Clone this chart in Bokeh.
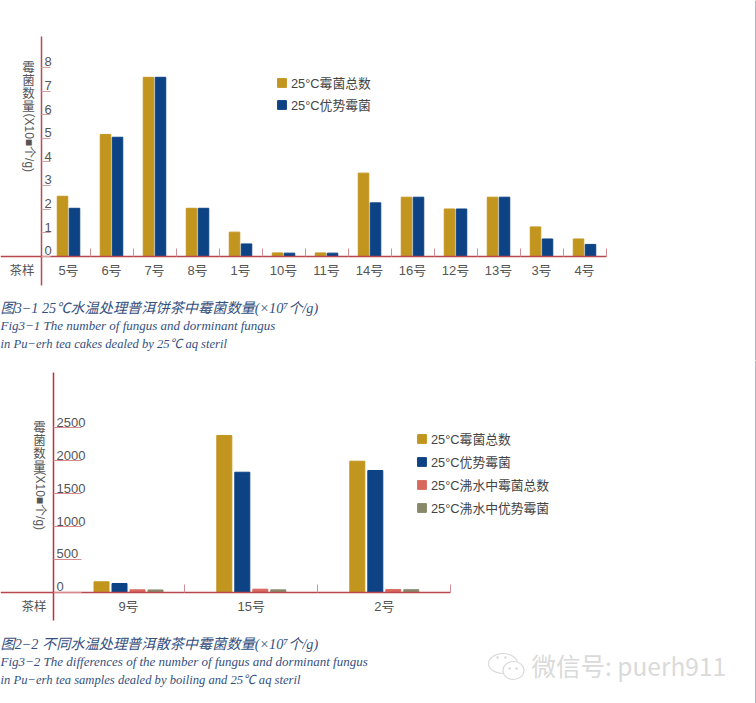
from bokeh.plotting import figure
from bokeh.layouts import column
from bokeh.models import Range1d, LinearAxis, FixedTicker, Label, Span
from bokeh.core.properties import value
from bokeh.embed import file_html
from bokeh.resources import INLINE

# ---- data ----
cats1 = ["5号", "6号", "7号", "8号", "1号", "10号", "11号", "14号", "16号", "12号", "13号", "3号", "4号"]
total1 = [2.54, 5.16, 7.58, 2.03, 1.02, 0.14, 0.14, 3.52, 2.5, 2.0, 2.5, 1.24, 0.73]
dominant1 = [2.03, 5.04, 7.58, 2.03, 0.52, 0.13, 0.13, 2.26, 2.5, 2.0, 2.5, 0.73, 0.5]
ticks1 = [0, 1, 2, 3, 4, 5, 6, 7, 8]

cats2 = ["9号", "15号", "2号"]
total2 = [158, 2385, 1994]
dominant2 = [132, 1826, 1852]
boil_total2 = [36, 46, 40]
boil_dominant2 = [34, 36, 38]
ticks2 = [0, 500, 1000, 1500, 2000, 2500]

names1 = ["25°C霉菌总数", "25°C优势霉菌"]
names2 = ["25°C霉菌总数", "25°C优势霉菌", "25°C沸水中霉菌总数", "25°C沸水中优势霉菌"]
ylabel_cn = "霉菌数量"
ylabel_unit = "(X10■个/g)"
xlabel = "茶样"
caption1 = ["图3−1 25℃水温处理普洱饼茶中霉菌数量(×10⁷个/g)",
            "Fig3−1 The number of fungus and dorminant fungus",
            "in Pu−erh tea cakes dealed by 25℃ aq steril"]
caption2 = ["图2−2 不同水温处理普洱散茶中霉菌数量(×10⁷个/g)",
            "Fig3−2 The differences of the number of fungus and dorminant fungus",
            "in Pu−erh tea samples dealed by boiling and 25℃ aq steril"]
watermark = "微信号: puerh911"

# ---- style ----
GOLD, BLUE, RED, OLIVE = "#c2951f", "#0d4285", "#d8685e", "#87896a"
SANS = "Liberation Sans, Noto Sans CJK SC"
SERIF = "Liberation Serif, Noto Sans CJK SC"
INK = "#555555"
CAP = "#34507f"
MARK = "#dadada"
W = 756


def build(height, base_px, px_per_val, cat_left, cat_w):
    p = figure(width=W, height=height, output_backend="svg", toolbar_location=None,
               x_range=Range1d(-cat_left / cat_w, (W - cat_left) / cat_w),
               y_range=Range1d((base_px - height) / px_per_val, base_px / px_per_val),
               min_border=0, min_border_left=0, min_border_right=0, min_border_top=0, min_border_bottom=0,
               x_axis_type=None, y_axis_type=None, outline_line_color=None)
    p.xgrid.visible = False
    p.ygrid.visible = False
    return p


def add_axes(p, base_px, ppv, cat_left, cat_w, axis_px, top_px, bottom_px, n_ticks, yticks,
             label_pos, cats, tick_in, ycolor, ytick_color):
    seps = list(range(1, n_ticks + 1))
    xa = LinearAxis(fixed_location=0, ticker=FixedTicker(ticks=seps),
                    bounds=(-cat_left / cat_w, n_ticks),
                    axis_line_color="#b8474c", axis_line_width=1.5,
                    major_tick_line_color="#cf8f94", major_tick_in=8, major_tick_out=0,
                    minor_tick_line_color=None, major_label_overrides={s: "" for s in seps})
    p.add_layout(xa, "below")
    xl = LinearAxis(fixed_location=0, ticker=FixedTicker(ticks=label_pos),
                    axis_line_color=None, major_tick_line_color=None, minor_tick_line_color=None,
                    major_tick_out=0, major_tick_in=0,
                    major_label_overrides={k: c for k, c in zip(label_pos, cats)},
                    major_label_text_font=SANS, major_label_text_font_size="13px",
                    major_label_text_color=INK, major_label_standoff=7)
    p.add_layout(xl, "below")
    axis_u = (axis_px - cat_left) / cat_w
    ya = LinearAxis(fixed_location=axis_u, ticker=FixedTicker(ticks=yticks),
                    bounds=((base_px - bottom_px) / ppv, (base_px - top_px) / ppv),
                    axis_line_color=ycolor, axis_line_width=1.5,
                    major_tick_line_color=ytick_color, major_tick_in=tick_in, major_tick_out=0,
                    minor_tick_line_color=None, major_label_overrides={t: "" for t in yticks})
    p.add_layout(ya, "left")
    # value labels sit to the right of the axis line, on top of their tick
    p.text(x=[axis_u] * len(yticks), y=yticks, text=[str(t) for t in yticks], x_offset=3, y_offset=-1,
           text_font=value(SANS), text_font_size="13px", text_color=INK,
           text_align="left", text_baseline="bottom")


def text(p, height, x, y, s, size, color=INK, font=SANS, style="normal", angle=0, align="left",
         baseline="middle"):
    p.add_layout(Label(x=x, y=height - y, x_units="screen", y_units="screen", text=s,
                       text_font=font, text_font_size=size, text_color=color, text_font_style=style,
                       angle=angle, text_align=align, text_baseline=baseline))


def style_legend(p, x, y, spacing):
    lg = p.legend[0]
    lg.location = (x, y)
    lg.background_fill_alpha = 0
    lg.border_line_alpha = 0
    lg.padding = 0
    lg.margin = 0
    lg.glyph_width = 11
    lg.glyph_height = 11
    lg.label_height = 11
    lg.label_standoff = 4
    lg.spacing = spacing
    lg.label_text_font = SANS
    lg.label_text_font_size = "12.8px"
    lg.label_text_color = "#444444"


def ytitle(p, height, x, y0, unit_y):
    for i, ch in enumerate(ylabel_cn):
        text(p, height, x, y0 + i * 13.3, ch, "12.5px", align="center")
    text(p, height, x + 1, unit_y, ylabel_unit, "12px", angle=-1.5708)


def captions(p, height, lines, ys):
    for s, y, size in zip(lines, ys, ("14.2px", "13px", "12.6px")):
        text(p, height, 0, y, s, size, color=CAP, font=SERIF, style="italic")


# ---- chart 1 ----
H1 = 360
base1, ppv1, left1, cw1 = 255.7, 23.6, 46.5, 43.0
p1 = build(H1, base1, ppv1, left1, cw1)
xs1 = [i + 0.5 for i in range(len(cats1))]
p1.vbar(x=[x - 6 / cw1 for x in xs1], top=total1, bottom=0, width=10.5 / cw1, color=GOLD, legend_label=names1[0])
p1.vbar(x=[x + 6 / cw1 for x in xs1], top=dominant1, bottom=0, width=10.5 / cw1, color=BLUE, legend_label=names1[1])
add_axes(p1, base1, ppv1, left1, cw1, 41, 36, 285, len(cats1), ticks1, xs1, cats1, 9, "#bd4a50", "#d9a0a4")
style_legend(p1, 276, H1 - 114, 3)
text(p1, H1, 9, 270, xlabel, "12.5px")
ytitle(p1, H1, 28, 67, 113)
captions(p1, H1, caption1, (307, 325, 343))

# ---- chart 2 ----
H2 = 343
off2 = 360
base2, ppv2, left2, cw2 = 591.7 - off2, 0.0657, 51.3, 133.0
p2 = build(H2, base2, ppv2, left2, cw2)
xs2 = [(128 - left2) / cw2, 1.5, 2.5]
w2, pitch2 = 15 / cw2, 18 / cw2
series2 = [total2, dominant2, boil_total2, boil_dominant2]
for k, (vals, c) in enumerate(zip(series2, (GOLD, BLUE, RED, OLIVE))):
    p2.vbar(x=[x + (k - 1.5) * pitch2 for x in xs2], top=vals, bottom=0, width=w2, color=c, legend_label=names2[k])
add_axes(p2, base2, ppv2, left2, cw2, 53, 372 - off2, 620 - off2, 3, ticks2, xs2, cats2, 28, "#c0303a", "#d98a90")
style_legend(p2, 416, int(H2 - (517 - off2)), 4)
text(p2, H2, 21, 606.5 - off2, xlabel, "12.5px")
ytitle(p2, H2, 39, 427 - off2, 471 - off2)
captions(p2, H2, caption2, (643 - off2, 661 - off2, 679 - off2))

# watermark: icon outline bubbles + text
def mx(px):
    return (px - left2) / cw2


def my(py):
    return (base2 - (py - off2)) / ppv2


p2.ellipse(x=[mx(502.5)], y=[my(663)], width=29 / cw2, height=20 / ppv2,
           fill_color=None, line_color=MARK, line_width=1.2)
p2.ellipse(x=[mx(513)], y=[my(670)], width=21 / cw2, height=18 / ppv2,
           fill_color="white", line_color=MARK, line_width=1.2)
p2.scatter(x=[mx(497), mx(505), mx(509), mx(516)], y=[my(657), my(657), my(668), my(668)], size=2.5,
           fill_color=MARK, line_color=None)
text(p2, H2, 531, 665 - off2, watermark, "24.5px", color=MARK, font="Noto Sans CJK SC")

p1.add_layout(Span(location=(755 - left1) / cw1, dimension="height", line_color="#b4b4c0", line_width=1))
p2.add_layout(Span(location=(755 - left2) / cw2, dimension="height", line_color="#b4b4c0", line_width=1))

page = column(p1, p2, spacing=0)
open("out.html", "w").write(file_html(page, INLINE))
